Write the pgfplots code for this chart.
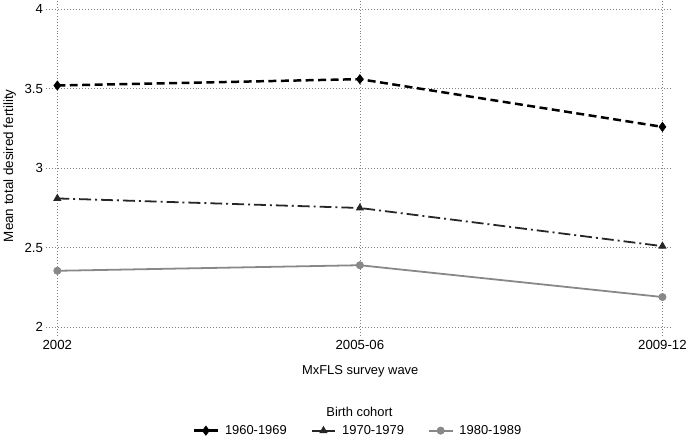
\documentclass[border=0pt]{standalone}
\usepackage{pgfplots}
\pgfplotsset{compat=1.18}
\usepackage{fontspec}
\setmainfont{Liberation Sans}
\definecolor{cohortA}{HTML}{000000}
\definecolor{cohortB}{HTML}{262626}
\definecolor{cohortC}{HTML}{888888}
\newcommand\chartfont{\fontsize{13}{15}\selectfont}
\begin{document}
\begin{tikzpicture}
% page frame (invisible)
\path (-46pt,-102pt) rectangle (644pt,337pt);
\begin{axis}[
  scale only axis, width=629pt, height=337pt,
  xmin=-0.036, xmax=2.03, ymin=1.95, ymax=4.056,
  xtick={0,1,2}, xticklabels={2002,2005-06,2009-12},
  ytick={2,2.5,3,3.5,4},
  /pgf/number format/assume math mode=true,
  axis line style={draw=none},
  major tick length=0pt,
  grid=major,
  major grid style={black!50, line width=0.6pt, dash pattern=on 0.6pt off 2.4pt},
  tick label style={font=\fontsize{13.3}{15}\selectfont},
  xticklabel style={yshift=-2pt},
  label style={font=\chartfont},
  xlabel={MxFLS survey wave},
  xlabel style={at={(axis description cs:0.502,-0.108)}, anchor=center},
  ylabel={Mean total desired fertility},
  ylabel style={at={(axis description cs:-0.059,0.506)}, anchor=center, font=\fontsize{13.5}{15}\selectfont},
  legend columns=3,
  legend style={at={(axis description cs:0.4984,-0.285)}, anchor=center, draw=none,
    font=\chartfont,
    /tikz/every odd column/.append style={column sep=4pt},
    /tikz/every even column/.append style={column sep=22pt}},
  legend image code/.code={%
    \draw[mark repeat=2, mark phase=2, solid] plot coordinates {(0pt,0pt) (12pt,0pt) (24pt,0pt)};},
]
\addplot[cohortA, line width=2.5pt, dash pattern=on 8pt off 4.5pt, mark=diamond*, mark size=4.5pt, mark options={solid, line width=0.8pt}]
  coordinates {(0,3.52) (1,3.56) (2,3.26)};
\addlegendentry{1960-1969}
\addplot[cohortB, line width=1.8pt, dash pattern=on 12pt off 4pt on 2pt off 4pt, mark=triangle*, mark size=4pt, mark options={solid, line width=0.8pt}]
  coordinates {(0,2.81) (1,2.75) (2,2.51)};
\addlegendentry{1970-1979}
\addplot[cohortC, line width=1.8pt, mark=*, mark size=3.6pt, mark options={line width=0.8pt}]
  coordinates {(0,2.355) (1,2.39) (2,2.19)};
\addlegendentry{1980-1989}
\end{axis}
\node[font=\chartfont] at (315pt,-77pt) {Birth cohort};
\end{tikzpicture}
\end{document}
